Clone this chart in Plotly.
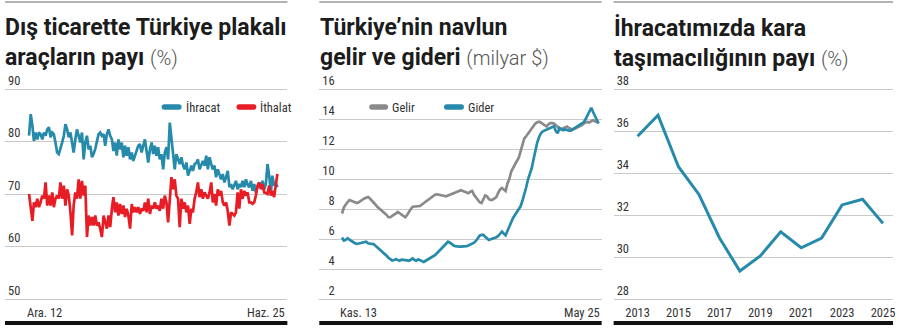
import pandas as pd
import plotly.graph_objects as go

W, H = 900, 329

# Plakalı araçların dış ticaretteki payı (%), aylık: Ara. 2012 - Haz. 2025
ihracat = [
    81.1, 85.2, 83.0, 80.1, 81.7, 80.4, 81.7, 81.4, 80.4, 81.7,
    81.1, 82.3, 82.7, 80.8, 81.7, 81.4, 79.8, 77.9, 77.6, 78.5,
    79.8, 81.1, 83.3, 82.3, 80.8, 81.7, 79.8, 77.9, 80.4, 82.3,
    81.1, 79.8, 81.7, 76.6, 79.8, 81.1, 78.5, 79.2, 77.0, 77.6,
    78.6,
    79.8, 81.4, 81.7, 81.1, 81.4, 79.2, 81.4, 82.3, 81.1, 80.4,
    78.2, 79.8, 77.3, 80.4, 78.5, 79.8, 77.0, 79.2, 77.3, 78.9,
    76.6, 77.9, 76.3, 77.3, 78.5, 79.2, 79.5, 77.9, 79.2, 80.4,
    78.2, 76.0, 78.5, 79.8, 77.6, 79.2, 77.3, 78.9, 76.6, 77.6,
    74.7, 77.9, 78.9, 76.6, 83.6, 80.4, 76.6, 74.7, 77.6, 76.6,
    75.7, 77.0, 75.4, 74.7, 76.0, 73.5, 74.7, 75.4, 74.4, 75.7,
    75.9,
    76.6, 74.7, 75.4, 76.3, 75.4, 77.3, 74.7, 77.0, 75.7, 74.7,
    75.4, 73.2, 74.7, 73.8, 72.8, 73.8, 72.2, 73.2, 74.4, 71.3,
    71.9, 70.9, 71.6, 72.5, 70.9, 71.9, 71.3, 72.5, 71.3, 72.8,
    71.8,
    71.3, 72.5, 70.6, 71.9, 70.3, 71.3, 72.2, 71.3, 72.5, 70.9,
    71.9, 75.7, 73.5, 70.3, 73.5, 71.6, 72.2, 71.3,
]
ithalat = [
    70.0, 67.8, 64.9, 68.4, 67.5, 69.1, 67.5, 68.4, 69.7, 69.1,
    72.2, 67.8, 69.7, 67.8, 70.3, 67.5, 69.1, 69.7, 69.1, 72.2,
    69.1, 71.6, 67.8, 70.9, 69.7, 66.5, 62.1, 67.8, 70.3, 69.1,
    72.8, 69.1, 72.5, 69.7, 71.6, 61.8, 65.9, 64.0, 65.6, 64.0,
    65.9, 64.0, 64.6, 63.4, 61.8, 65.9, 64.6, 63.4, 65.9, 63.7,
    67.2, 69.4, 66.5, 68.4, 65.9, 68.1, 66.2, 67.8, 65.6, 67.2,
    65.9, 63.4, 68.1, 66.5, 67.5, 66.5, 67.5, 66.2, 67.2, 66.8,
    68.4, 66.5, 69.1, 66.2, 67.8, 67.2, 68.4, 67.2, 67.8, 66.8,
    69.1, 67.2, 69.7, 68.4, 64.6, 69.7, 73.2, 70.9, 72.8, 69.7,
    69.1, 63.7, 69.1, 67.2, 68.4, 66.5, 67.8, 64.3, 67.2, 66.5,
    69.1, 70.3, 72.2, 69.4, 70.9, 69.1, 70.3, 69.7, 69.1, 70.3,
    72.2, 68.4, 70.0, 67.8, 70.9, 69.7, 70.6, 68.4, 67.8, 68.4,
    66.8, 64.0, 66.5, 66.2, 65.9, 66.5, 70.3, 67.2, 70.9, 69.1,
    70.6, 69.7, 70.3, 68.4, 68.4, 68.1, 68.4, 69.7, 71.6, 72.2,
    70.9, 71.9, 70.3, 70.2, 70.0, 71.6, 69.7, 70.6, 69.4, 71.6, 73.8,
]
ay_1 = pd.date_range("2012-12-01", periods=len(ihracat), freq="MS")

# Navlun gelir ve gideri (milyar $), aylık: Kas. 2013 - May 2025
gelir = [
    7.7, 8.1, 8.3, 8.5, 8.6, 8.55, 8.5, 8.45, 8.4, 8.45,
    8.55, 8.6, 8.7, 8.75, 8.8, 8.7, 8.55, 8.4, 8.3, 8.15,
    8.05, 7.95, 7.8, 7.7, 7.6, 7.45, 7.45, 7.55, 7.6, 7.7,
    7.8, 7.7, 7.6, 7.5, 7.45, 7.6, 7.85, 8.0, 8.15, 8.15,
    8.15, 8.15, 8.2, 8.3, 8.4, 8.5, 8.6, 8.65, 8.75, 8.85,
    8.95, 8.98, 8.95, 8.95, 8.9, 8.88, 8.85, 8.9, 8.97, 9.0,
    9.05, 9.1, 9.15, 9.2, 9.25, 9.2, 9.15, 9.1, 9.05, 9.15,
    9.2, 8.95, 8.8, 8.6, 8.45, 8.4, 8.65, 8.9, 8.85, 8.65,
    8.6, 8.62, 8.7, 8.8, 9.1, 9.3, 9.4, 9.3, 9.2, 9.7,
    10.0, 10.5, 10.75, 10.95, 11.2, 11.4, 11.9, 12.35, 12.7, 12.85,
    13.0, 13.15, 13.35, 13.5, 13.7, 13.78, 13.82, 13.75, 13.65, 13.55,
    13.5, 13.65, 13.72, 13.72, 13.7, 13.58, 13.48, 13.3, 13.3, 13.38,
    13.45, 13.5, 13.4, 13.35, 13.3, 13.35, 13.4, 13.45, 13.5, 13.6,
    13.7, 13.78, 13.8, 13.76, 13.85, 13.92, 13.85, 13.8, 13.75,
]
gider = [
    6.1, 5.9, 5.95, 6.05, 5.95, 5.85, 5.8, 5.72, 5.68, 5.7,
    5.73, 5.76, 5.8, 5.82, 5.72, 5.67, 5.67, 5.66, 5.55, 5.45,
    5.38, 5.25, 5.12, 5.0, 4.88, 4.75, 4.65, 4.57, 4.6, 4.65,
    4.6, 4.55, 4.62, 4.62, 4.58, 4.57, 4.55, 4.62, 4.7, 4.6,
    4.55, 4.65, 4.6, 4.52, 4.47, 4.55, 4.63, 4.68, 4.75, 4.83,
    4.93, 5.05, 5.17, 5.3, 5.42, 5.52, 5.65, 5.82, 5.75, 5.65,
    5.57, 5.52, 5.49, 5.49, 5.49, 5.49, 5.5, 5.53, 5.57, 5.62,
    5.67, 5.75, 5.87, 6.05, 6.22, 6.27, 6.27, 6.15, 6.02, 5.93,
    5.98, 6.02, 6.05, 6.12, 6.2, 6.35, 6.5, 6.35, 6.25, 6.55,
    6.85, 7.15, 7.4, 7.6, 7.8, 7.98, 8.18, 8.55, 8.95, 9.45,
    9.95, 10.35, 10.7, 11.3, 11.95, 12.45, 12.8, 13.05, 13.18, 13.24,
    13.3, 13.35, 13.4, 13.45, 13.52, 13.2, 13.05, 13.4, 13.3, 13.25,
    13.3, 13.25, 13.22, 13.22, 13.3, 13.35, 13.45, 13.55, 13.6, 13.72,
    13.8, 14.0, 14.25, 14.55, 14.75, 14.45, 14.2, 13.95, 13.7,
]
ay_2 = pd.date_range("2013-11-01", periods=len(gelir), freq="MS")

# İhracatta kara taşımacılığının payı (%), yıllık
yillar = list(range(2013, 2026))
kara_payi = [35.75, 36.75, 34.3, 32.98, 30.92, 29.33, 30.05, 31.2, 30.44, 30.9, 32.48, 32.75, 31.6]

y_ticks_1 = [50, 60, 70, 80, 90]
y_ticks_2 = [2, 4, 6, 8, 10, 12, 14, 16]
y_ticks_3 = [28, 30, 32, 34, 36, 38]
x_ticks_3 = [2013, 2015, 2017, 2019, 2021, 2023, 2025]

BLUE = "#268BAA"
RED = "#E81C24"
GREY = "#8A8A8A"
INK = "#1C1C1C"
GRID = "#C9C9C9"
TITLE_FONT = "Roboto"
SMALL_FONT = "Roboto Condensed, Roboto"
SMALL_SIZE = 12.5


def px(x):
    return x / W


def py(y):
    return 1 - y / H


# panel extents in pixels: (left, right)
panels = [(5, 288), (320, 603), (615, 895)]
# first and last gridline rows, and the plot area edges around them
grid_top, grid_bottom = 89, 299
area_top, area_bottom = 72, 303

fig = go.Figure()
fig.add_trace(go.Scatter(x=ay_1, y=ihracat, mode="lines", line=dict(color=BLUE, width=2.7),
                         xaxis="x", yaxis="y", showlegend=False))
fig.add_trace(go.Scatter(x=ay_1, y=ithalat, mode="lines", line=dict(color=RED, width=2.7),
                         xaxis="x", yaxis="y", showlegend=False))
fig.add_trace(go.Scatter(x=ay_2, y=gelir, mode="lines", line=dict(color=GREY, width=2.7),
                         xaxis="x2", yaxis="y2", showlegend=False))
fig.add_trace(go.Scatter(x=ay_2, y=gider, mode="lines", line=dict(color=BLUE, width=2.7),
                         xaxis="x2", yaxis="y2", showlegend=False))
fig.add_trace(go.Scatter(x=yillar, y=kara_payi, mode="lines", line=dict(color=BLUE, width=3),
                         xaxis="x3", yaxis="y3", showlegend=False))

ydom = [py(area_bottom), py(area_top)]
yfont = dict(family=SMALL_FONT, size=SMALL_SIZE, color="#333333")


def yaxis_cfg(ticks, anchor, text=None):
    lo, hi = ticks[0], ticks[-1]
    upp = (hi - lo) / (grid_bottom - grid_top)
    rng = [lo - (area_bottom - grid_bottom) * upp, hi + (grid_top - area_top) * upp]
    return dict(domain=ydom, range=rng, tickvals=ticks,
                ticktext=text if text else [str(t) for t in ticks],
                ticklabelposition="inside top", ticklabelstandoff=0,
                showgrid=True, gridcolor=GRID, gridwidth=1, zeroline=False,
                showline=False, ticks="", tickfont=yfont, anchor=anchor, fixedrange=True)


def xaxis_cfg(i, rng, anchor):
    l, r = panels[i]
    return dict(domain=[px(l), px(r)], range=rng, showgrid=False, zeroline=False,
                showline=False, showticklabels=False, ticks="", anchor=anchor, fixedrange=True)


fig.update_layout(
    width=W, height=H, margin=dict(l=0, r=0, t=0, b=0),
    paper_bgcolor="white", plot_bgcolor="rgba(0,0,0,0)", showlegend=False,
    xaxis=xaxis_cfg(0, ["2011-09-16", "2025-12-01"], "y"),
    xaxis2=xaxis_cfg(1, ["2012-10-25", "2025-06-20"], "y2"),
    xaxis3=dict(domain=[px(615), px(895)], range=[2011.83, 2025.49], tickvals=x_ticks_3,
                ticktext=[str(t) for t in x_ticks_3], showgrid=False, zeroline=False,
                showline=False, ticks="", tickfont=yfont, ticklabelstandoff=0,
                anchor="y3", fixedrange=True),
    yaxis=yaxis_cfg(y_ticks_1, "x"),
    yaxis2=yaxis_cfg(y_ticks_2, "x2", [("\u2007" + str(t)) if t < 10 else str(t) for t in y_ticks_2]),
    yaxis3=yaxis_cfg(y_ticks_3, "x3"),
)

shapes = []
for l, r in panels:
    # thin rule above each panel, heavy rule below
    shapes.append(dict(type="line", xref="paper", yref="paper", x0=px(l), x1=px(r),
                       y0=py(2), y1=py(2), line=dict(color="#9A9A9A", width=1.5)))
    shapes.append(dict(type="rect", xref="paper", yref="paper", x0=px(l), x1=px(r),
                       y0=py(325), y1=py(321), line=dict(width=0), fillcolor="#111111"))


def pill(x0, x1, yc, h, color):
    r = h / 2
    yt, yb = yc - r, yc + r
    d = (f"M{px(x0 + r)},{py(yt)} L{px(x1 - r)},{py(yt)} "
         f"Q{px(x1)},{py(yt)} {px(x1)},{py(yc)} Q{px(x1)},{py(yb)} {px(x1 - r)},{py(yb)} "
         f"L{px(x0 + r)},{py(yb)} Q{px(x0)},{py(yb)} {px(x0)},{py(yc)} "
         f"Q{px(x0)},{py(yt)} {px(x0 + r)},{py(yt)} Z")
    return dict(type="path", xref="paper", yref="paper", path=d,
                fillcolor=color, line=dict(width=0))


legend_items = [
    (162, 182, BLUE, "İhracat"), (237, 257, RED, "İthalat"),
    (370, 389, GREY, "Gelir"), (445, 465, BLUE, "Gider"),
]
annotations = []
for x0, x1, col, lab in legend_items:
    shapes.append(pill(x0, x1, 107, 5.5, col))
    annotations.append(dict(text=lab, xref="paper", yref="paper", x=px(x1 + 2), y=py(107),
                            xanchor="left", yanchor="middle", showarrow=False,
                            font=dict(family=SMALL_FONT, size=SMALL_SIZE, color="#333333")))

titles = [
    (5, "Dış ticarette Türkiye plakalı", "araçların payı", "(%)"),
    (321, "Türkiye’nin navlun", "gelir ve gideri", "(milyar $)"),
    (615, "İhracatımızda kara", "taşımacılığının payı", "(%)"),
]
for x, l1, l2, unit in titles:
    annotations.append(dict(
        text=(f"<b>{l1}<br>{l2}</b> "
              f"<span style='font-weight:300;font-size:20px;color:#555'>{unit}</span>"),
        xref="paper", yref="paper", x=px(x), y=py(12), xanchor="left", yanchor="top",
        align="left", showarrow=False, xshift=-2,
        font=dict(family=TITLE_FONT, size=23, color=INK)))

xfont = dict(family=SMALL_FONT, size=SMALL_SIZE, color="#333333")
annotations += [
    dict(text="Ara. 12", xref="x", yref="paper", x=ay_1[0], y=py(312), xanchor="left",
         yanchor="middle", xshift=-4, showarrow=False, font=xfont),
    dict(text="Haz. 25", xref="paper", yref="paper", x=px(288), y=py(312), xanchor="right",
         yanchor="middle", showarrow=False, font=xfont),
    dict(text="Kas. 13", xref="x2", yref="paper", x=ay_2[0], y=py(312), xanchor="left",
         yanchor="middle", xshift=-4, showarrow=False, font=xfont),
    dict(text="May 25", xref="paper", yref="paper", x=px(603), y=py(312), xanchor="right",
         yanchor="middle", showarrow=False, font=xfont),
]

fig.update_layout(shapes=shapes, annotations=annotations)
fig.write_html("out.html")
